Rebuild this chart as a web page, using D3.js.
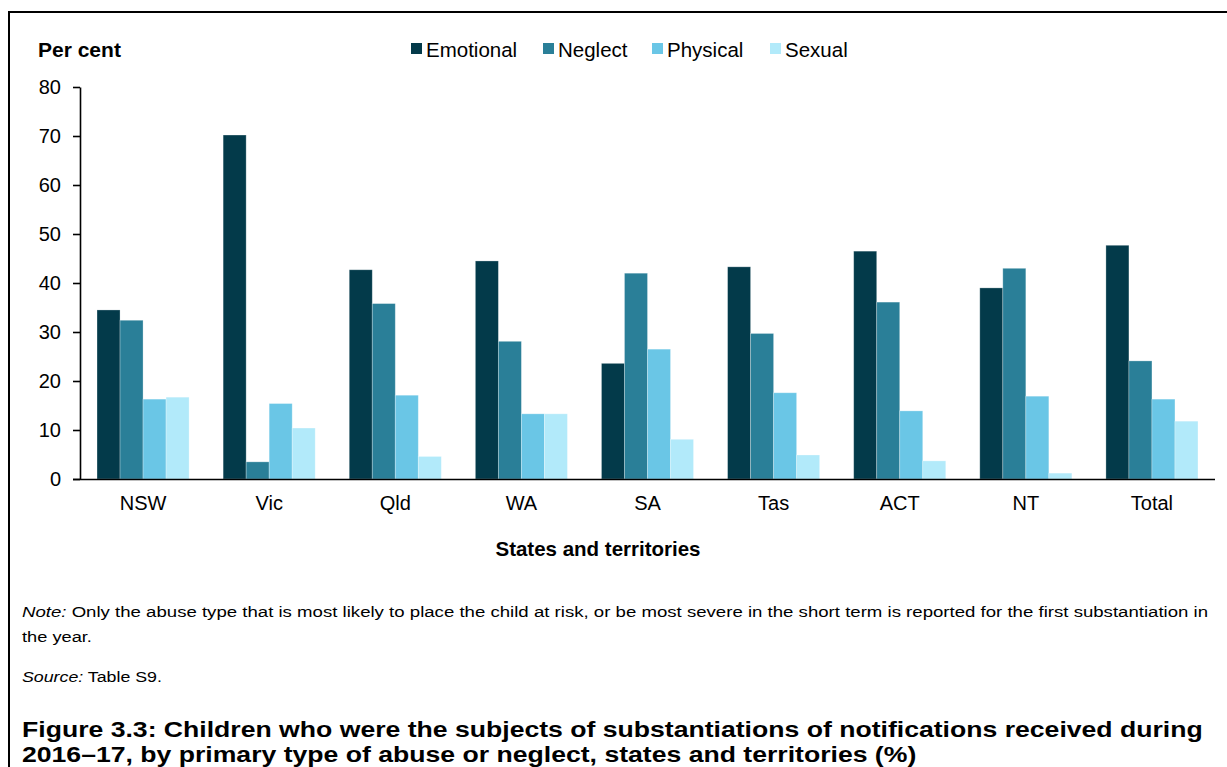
<!DOCTYPE html>
<html><head><meta charset="utf-8">
<script src="https://cdn.jsdelivr.net/npm/d3@7"></script>
<style>
html,body{margin:0;padding:0;background:#fff;}
svg{display:block;font-family:"Liberation Sans",Arial,sans-serif;}
</style></head>
<body>
<svg id="c" width="1227" height="767"></svg>
<script>
const categories = ["NSW","Vic","Qld","WA","SA","Tas","ACT","NT","Total"];
const seriesNames = ["Emotional","Neglect","Physical","Sexual"];
const emotional = [34.5, 70.2, 42.7, 44.5, 23.6, 43.3, 46.5, 39.0, 47.7];
const neglect   = [32.4, 3.5, 35.8, 28.1, 42.0, 29.7, 36.1, 43.0, 24.1];
const physical  = [16.3, 15.4, 17.1, 13.3, 26.5, 17.6, 13.9, 16.9, 16.3];
const sexual    = [16.7, 10.4, 4.6, 13.3, 8.1, 4.9, 3.7, 1.2, 11.8];
const yTicks = [0,10,20,30,40,50,60,70,80];
const colors = ["#033a4a","#2a7f98","#6ac6e6","#b2eafa"];

const seriesValues = [emotional, neglect, physical, sexual];
const svg = d3.select("#c");

// frame
svg.append("line").attr("x1",8).attr("x2",1227).attr("y1",12).attr("y2",12).attr("stroke","#000").attr("stroke-width",2);
svg.append("line").attr("x1",9).attr("x2",9).attr("y1",11).attr("y2",767).attr("stroke","#000").attr("stroke-width",2);

const x0 = d3.scaleBand().domain(categories).range([80,1215]).paddingInner(0.27).paddingOuter(0.135);
const x1 = d3.scaleBand().domain(seriesNames).range([0,x0.bandwidth()]);
const y = d3.scaleLinear().domain([0,80]).range([479,87]);

// y axis
const yAxis = svg.append("g").attr("transform","translate(80,0)")
  .call(d3.axisLeft(y).tickValues(yTicks).tickSize(7).tickSizeOuter(0).tickPadding(12));
yAxis.select(".domain").attr("stroke","#000").attr("stroke-width",1.6);
yAxis.selectAll(".tick line").attr("stroke","#000").attr("stroke-width",1.6);
yAxis.selectAll(".tick text").attr("font-size","20px").attr("fill","#000")
  .attr("font-family","Liberation Sans, Arial, sans-serif");

// bars
const groups = svg.append("g").selectAll("g").data(categories).join("g")
  .attr("transform", c => `translate(${x0(c)},0)`);
groups.selectAll("rect").data((c,i) => seriesNames.map((s,j)=>({s, v: seriesValues[j][i], j})))
  .join("rect")
  .attr("x", d => x1(d.s))
  .attr("width", x1.bandwidth())
  .attr("y", d => y(d.v))
  .attr("height", d => y(0) - y(d.v))
  .attr("fill", d => colors[d.j])
  .attr("stroke","rgba(255,255,255,0.35)").attr("stroke-width",0.8);

// x axis
const xAxis = svg.append("g").attr("transform","translate(0,479)")
  .call(d3.axisBottom(x0).tickSize(0).tickPadding(17));
xAxis.select(".domain").attr("stroke","#000").attr("stroke-width",1.6).attr("d","M73,0.5H1215");
xAxis.selectAll(".tick text").attr("font-size","20px").attr("fill","#000")
  .attr("font-family","Liberation Sans, Arial, sans-serif");

// axis titles
svg.append("text").attr("x",38).attr("y",57).attr("font-size","21px").attr("font-weight","bold").text("Per cent");
svg.append("text").attr("x",598).attr("y",556).attr("text-anchor","middle").attr("font-size","20.5px").attr("font-weight","bold").text("States and territories");

// legend
const legendX = [411, 543, 652, 770];
const lg = svg.append("g").selectAll("g").data(seriesNames).join("g")
  .attr("transform",(d,i)=>`translate(${legendX[i]},0)`);
lg.append("rect").attr("x",0).attr("y",43).attr("width",11).attr("height",11).attr("fill",(d,i)=>colors[i]);
lg.append("text").attr("x",15).attr("y",57).attr("font-size","20.5px").text(d=>d);

// stretch text horizontally (reference glyphs are wider than Arial)
function stretch(sel, factor){
  sel.each(function(){
    const w = this.getComputedTextLength();
    d3.select(this).attr("textLength", w*factor).attr("lengthAdjust","spacingAndGlyphs");
  });
}

// notes
const note = svg.append("text").attr("x",22).attr("y",617).attr("font-size","15.2px");
note.append("tspan").attr("font-style","italic").text("Note:");
note.append("tspan").text(" Only the abuse type that is most likely to place the child at risk, or be most severe in the short term is reported for the first substantiation in");
stretch(note, 1.225);
const n2 = svg.append("text").attr("x",22).attr("y",642).attr("font-size","15.2px").text("the year.");
stretch(n2, 1.2);
const src = svg.append("text").attr("x",22).attr("y",682).attr("font-size","15.2px");
src.append("tspan").attr("font-style","italic").text("Source:");
src.append("tspan").text(" Table S9.");
stretch(src, 1.17);

// figure title
const t1 = svg.append("text").attr("x",22).attr("y",737).attr("font-size","21.5px").attr("font-weight","bold")
  .text("Figure 3.3: Children who were the subjects of substantiations of notifications received during");
stretch(t1, 1.237);
const t2 = svg.append("text").attr("x",22).attr("y",762).attr("font-size","21.5px").attr("font-weight","bold")
  .text("2016–17, by primary type of abuse or neglect, states and territories (%)");
stretch(t2, 1.237);
</script>
</body></html>
